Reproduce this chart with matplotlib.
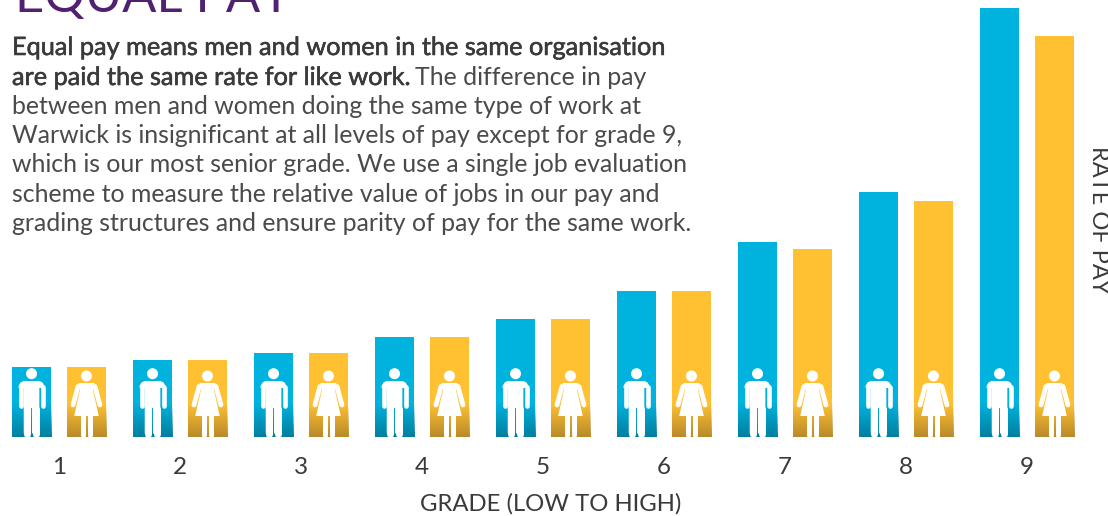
import matplotlib
matplotlib.use("Agg")
import matplotlib.pyplot as plt
import matplotlib.patheffects as pe
import numpy as np
from matplotlib.patches import Circle, Polygon
from matplotlib.lines import Line2D
from matplotlib.transforms import Affine2D

grades = [1, 2, 3, 4, 5, 6, 7, 8, 9]
men = [70, 77, 84, 100, 118, 146, 195, 245, 429]
women = [70, 77, 84, 100, 118, 146, 188, 236, 401]

BLUE = "#00b2de"
YELLOW = "#ffc032"
TEXT = "#3a3a3c"
W, H = 1108, 516
BASE = 437
LEFT = 59.0

plt.rcParams["font.family"] = ["Lato", "DejaVu Sans"]

fig = plt.figure(figsize=(W / 100, H / 100), dpi=100)
ax = fig.add_axes([0, (H - BASE) / H, 1, BASE / H])
xlim = (1 - LEFT / 121, 1 + (W - LEFT) / 121)
for s in ax.spines.values():
    s.set_visible(False)

m_bars = ax.bar(np.array(grades) - 0.227, men, 0.33, color=BLUE)
w_bars = ax.bar(np.array(grades) + 0.227, women, 0.33, color=YELLOW)
ax.set_xlim(*xlim)
ax.set_ylim(0, BASE)

# darker fade at the foot of each bar
def add_fade(bar, dark):
    rgba = np.zeros((64, 1, 4))
    rgba[..., :3] = matplotlib.colors.to_rgb(dark)
    rgba[..., 3] = np.linspace(0, 1, 64).reshape(-1, 1)
    x = bar.get_x()
    ax.imshow(rgba, extent=(x, x + bar.get_width(), 0, 34), aspect="auto", zorder=2,
              interpolation="bilinear")

def px_line(trans, pts, width):
    ax.add_artist(Line2D([p[0] for p in pts], [p[1] for p in pts], color="white", lw=width * 0.72,
                         solid_capstyle="round", transform=trans, zorder=3))

def draw_man(x):
    cx, cy = ax.transData.transform((x, 0))
    t = Affine2D().translate(cx, cy)
    ax.add_patch(Circle((0, 63.3), 5.5, color="white", transform=t, zorder=3, lw=0))
    ax.add_patch(Polygon([(-8, 56), (8, 56), (11, 54.5), (13, 51), (13, 49), (7.8, 49), (7.8, 3.5), (0.5, 3.5),
                          (0.5, 29), (-0.5, 29), (-0.5, 3.5), (-7.8, 3.5), (-7.8, 49), (-13, 49), (-13, 51), (-11, 54.5)],
                         color="white", transform=t, zorder=3, lw=0))
    px_line(t, [(-11, 50), (-11, 31)], 4.6)
    px_line(t, [(11, 50), (11, 31)], 4.6)
    px_line(t, [(-4.3, 28), (-4.3, 3.5)], 7)
    px_line(t, [(4.3, 28), (4.3, 3.5)], 7)

def draw_woman(x):
    cx, cy = ax.transData.transform((x, 0))
    t = Affine2D().translate(cx, cy)
    ax.add_patch(Circle((0, 61), 5.5, color="white", transform=t, zorder=3, lw=0))
    ax.add_patch(Polygon([(-8, 54), (8, 54), (6.5, 47), (12.3, 21), (-12.3, 21), (-6.5, 47)],
                         color="white", transform=t, zorder=3, lw=0))
    px_line(t, [(-8.5, 50.5), (-13.5, 32)], 4.8)
    px_line(t, [(8.5, 50.5), (13.5, 32)], 4.8)
    px_line(t, [(-3.7, 21), (-3.7, 2.5)], 5)
    px_line(t, [(3.7, 21), (3.7, 2.5)], 5)

for b in m_bars:
    add_fade(b, "#007f9f")
    draw_man(b.get_x() + b.get_width() / 2)
for b in w_bars:
    add_fade(b, "#b98a2a")
    draw_woman(b.get_x() + b.get_width() / 2)

ax.set_xlim(*xlim)
ax.set_ylim(0, BASE)
ax.set_xticks(grades)
ax.set_xticklabels(grades, fontsize=17.5, color=TEXT)
ax.tick_params(axis="x", length=0, pad=14.5)
ax.set_yticks([])
ax.set_xlabel("GRADE (LOW TO HIGH)", fontsize=17.2, color=TEXT, va="center")
ax.xaxis.set_label_coords(551 / W, -(504 - BASE) / BASE)
ax.yaxis.set_label_position("right")
ax.set_ylabel("RATE OF PAY", fontsize=17, color=TEXT, rotation=270, va="center", ha="center")
ax.yaxis.set_label_coords(1099 / W, (BASE - 220) / BASE)

def put(x, y, s, **kw):
    return fig.text(x / W, 1 - y / H, s, va="baseline", ha="left", color=kw.pop("color", TEXT), **kw)

put(15, 12, "EQUAL PAY", fontsize=36.5, color="#4f2170")

FS = 17.9
# lead sentence is a medium weight in the original, thicken regular a little
medium = [pe.withStroke(linewidth=0.4, foreground=TEXT)]
put(12, 55, "Equal pay means men and women in the same organisation", fontsize=18.2, path_effects=medium)
lead = put(12, 85, "are paid the same rate for like work.", fontsize=18.2, path_effects=medium)
fig.canvas.draw()
end = lead.get_window_extent().x1
put(end + 5, 85, "The difference in pay", fontsize=FS, color="#4a4a4c")
body = [
    "between men and women doing the same type of work at",
    "Warwick is insignificant at all levels of pay except for grade 9,",
    "which is our most senior grade. We use a single job evaluation",
    "scheme to measure the relative value of jobs in our pay and",
    "grading structures and ensure parity of pay for the same work.",
]
for y, line in zip([114, 143, 172, 202, 231], body):
    put(12, y, line, fontsize=FS, color="#4a4a4c")

fig.savefig("out.png", dpi=100)
